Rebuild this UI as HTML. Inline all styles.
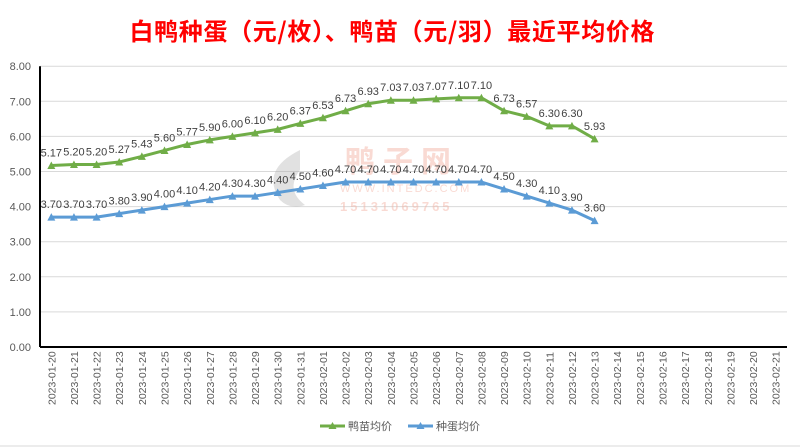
<!DOCTYPE html>
<html><head><meta charset="utf-8"><style>
html,body{margin:0;padding:0;background:#fff;}
svg{display:block;font-family:"Liberation Sans","Noto Sans CJK SC",sans-serif;}
</style></head><body>
<svg id="c" width="800" height="448" xmlns="http://www.w3.org/2000/svg"></svg>
<script>
const s=document.getElementById('c');
let h='';
h+='<text x="392" y="40" text-anchor="middle" font-size="24" font-weight="bold" fill="#ff0000" font-family="Noto Sans CJK SC,sans-serif" textLength="525" lengthAdjust="spacing">白鸭种蛋（元/枚）、鸭苗（元/羽）最近平均价格</text>';
const X0=40,W=747,N=33,dx=W/N,Y0=347,k=35.1;
const X=i=>X0+dx*(i+0.5), Y=v=>Y0-v*k;
for(let v=0;v<=8;v++){const y=Y(v);
 if(v>0)h+=`<line x1="${X0}" y1="${y}" x2="${X0+W}" y2="${y}" stroke="#d9d9d9" stroke-width="1"/>`;
 h+=`<text x="31" y="${y+4}" text-anchor="end" font-size="11" fill="#595959">${v.toFixed(2)}</text>`;}
h+=`<line x1="${X0}" y1="${Y0}" x2="${X0+W}" y2="${Y0}" stroke="#000" stroke-width="2"/>`;
h+=`<line x1="${X0}" y1="${Y(8)}" x2="${X0}" y2="${Y0}" stroke="#000" stroke-width="2"/>`;
const d0=new Date(Date.UTC(2023,0,20));
for(let i=0;i<N;i++){const d=new Date(d0.getTime()+i*864e5);
 const t=d.toISOString().slice(0,10);const x=X(i)+4;
 h+=`<text transform="translate(${x},405) rotate(-90)" font-size="10.5" fill="#595959">${t}</text>`;}
const g=[5.17,5.20,5.20,5.27,5.43,5.60,5.77,5.90,6.00,6.10,6.20,6.37,6.53,6.73,6.93,7.03,7.03,7.07,7.10,7.10,6.73,6.57,6.30,6.30,5.93];
const b=[3.70,3.70,3.70,3.80,3.90,4.00,4.10,4.20,4.30,4.30,4.40,4.50,4.60,4.70,4.70,4.70,4.70,4.70,4.70,4.70,4.50,4.30,4.10,3.90,3.60];
function ser(a,c){let p=a.map((v,i)=>X(i)+','+Y(v)).join(' ');
 h+=`<polyline points="${p}" fill="none" stroke="${c}" stroke-width="3" stroke-linejoin="round"/>`;
 a.forEach((v,i)=>{const x=X(i),y=Y(v);h+=`<polygon points="${x-4},${y+3.5} ${x+4},${y+3.5} ${x},${y-4}" fill="${c}"/>`;
 h+=`<text x="${x}" y="${y-9}" text-anchor="middle" font-size="11" fill="#404040">${v.toFixed(2)}</text>`;});}
h+='<path d="M300,150 q-40,20 -20,50 q10,10 25,5 q-20,-15 -5,-35 z" fill="#aaa" opacity="0.35"/>';
h+='<text x="345" y="172" font-size="30" font-weight="bold" fill="#f4b6a8" opacity="0.5" font-family="Noto Sans CJK SC,sans-serif" letter-spacing="8">鸭子网</text>';
h+='<text x="340" y="192" font-size="11" fill="#f4b6a8" opacity="0.5" letter-spacing="2">WWW.INTEDC.COM</text>';
h+='<text x="340" y="211" font-size="13" font-weight="bold" fill="#f4b6a8" opacity="0.5" letter-spacing="3">15131069765</text>';
ser(g,'#70ad47');ser(b,'#5b9bd5');
h+='<line x1="320" y1="426" x2="345" y2="426" stroke="#70ad47" stroke-width="3"/><polygon points="328.5,429 336.5,429 332.5,422" fill="#70ad47"/>';
h+='<text x="348" y="430" font-size="11" fill="#595959" font-family="Noto Sans CJK SC,sans-serif">鸭苗均价</text>';
h+='<line x1="408" y1="426" x2="433" y2="426" stroke="#5b9bd5" stroke-width="3"/><polygon points="416.5,429 424.5,429 420.5,422" fill="#5b9bd5"/>';
h+='<text x="436" y="430" font-size="11" fill="#595959" font-family="Noto Sans CJK SC,sans-serif">种蛋均价</text>';
h+='<line x1="0" y1="446" x2="800" y2="446" stroke="#d9d9d9"/>';
s.innerHTML=h;
</script>
</body></html>
